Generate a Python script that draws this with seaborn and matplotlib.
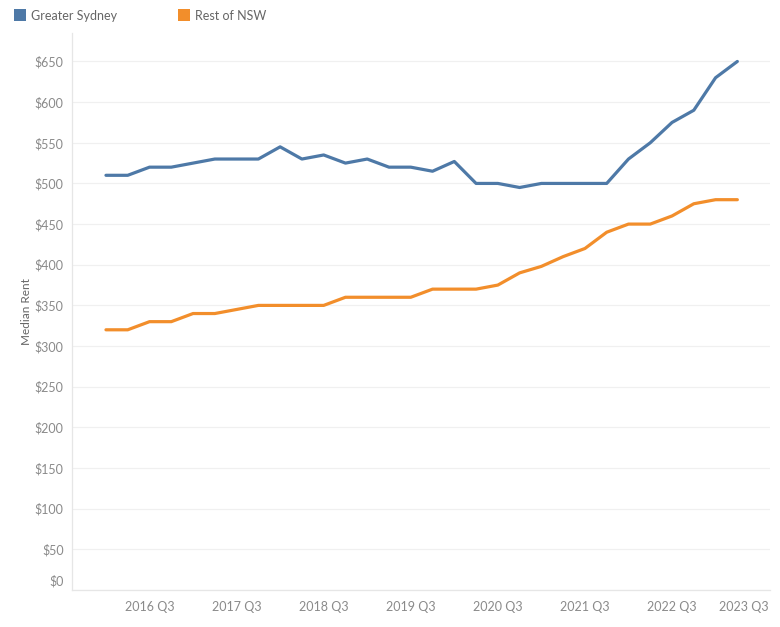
import matplotlib
matplotlib.use("Agg")
import matplotlib.pyplot as plt
import matplotlib.transforms as mtransforms
from matplotlib.patches import Rectangle
import seaborn as sns
import pandas as pd

# ---- data ----
quarters = [f"{y} Q{q}" for y in range(2016, 2024) for q in range(1, 5)][:30]  # 2016 Q1 .. 2023 Q2
greater_sydney = [510, 510, 520, 520, 525, 530, 530, 530, 545, 530,
                  535, 525, 530, 520, 520, 515, 527, 500, 500, 495,
                  500, 500, 500, 500, 530, 550, 575, 590, 630, 650]
rest_of_nsw = [320, 320, 330, 330, 340, 340, 345, 350, 350, 350,
               350, 360, 360, 360, 360, 370, 370, 370, 375, 390,
               398, 410, 420, 440, 450, 450, 460, 475, 480, 480]
series_names = ["Greater Sydney", "Rest of NSW"]
tick_labels = ["2016 Q3", "2017 Q3", "2018 Q3", "2019 Q3", "2020 Q3", "2021 Q3", "2022 Q3", "2023 Q3"]
y_ticks = list(range(0, 651, 50))

colors = {"Greater Sydney": "#4e79a7", "Rest of NSW": "#f28e2b"}

all_quarters = [f"{y} Q{q}" for y in range(2016, 2025) for q in range(1, 5)]
df = pd.DataFrame({
    "x": list(range(len(quarters))) * 2,
    "Quarter": quarters * 2,
    "Median Rent": greater_sydney + rest_of_nsw,
    "Region": [series_names[0]] * len(quarters) + [series_names[1]] * len(quarters),
})

sns.set_theme(style="white")
plt.rcParams["font.family"] = ["Lato", "DejaVu Sans"]

fig = plt.figure(figsize=(7.8, 6.27), dpi=100)
ax = fig.add_axes([72 / 780, 1 - 590 / 627, (770 - 72) / 780, (590 - 33) / 627])

sns.lineplot(data=df, x="x", y="Median Rent", hue="Region", palette=colors,
             linewidth=2.3, ax=ax, legend=False)

ax.set_xlim(-1.56, 30.5)
ax.set_ylim(0, 685)

# grid
ax.set_yticks(y_ticks)
ax.set_yticklabels([f"${v}" for v in y_ticks])
ax.yaxis.grid(True, color="#f0f0f0", linewidth=0.9)
ax.set_axisbelow(True)
ax.xaxis.grid(False)

tick_pos = [all_quarters.index(t) for t in tick_labels]
ax.set_xticks(tick_pos)
ax.set_xticklabels(tick_labels)

for s in ["top", "right"]:
    ax.spines[s].set_visible(False)
ax.spines["left"].set_color("#e6e6e6")
ax.spines["bottom"].set_color("#e6e6e6")
ax.spines["left"].set_linewidth(0.9)
ax.spines["bottom"].set_linewidth(0.9)

ax.tick_params(axis="y", length=0, pad=6, labelsize=9, labelcolor="#8a8a8a")
ax.tick_params(axis="x", length=3, width=0.8, color="#e0e0e0", pad=5, labelsize=9, labelcolor="#8a8a8a")

ax.set_xlabel("")
ax.set_ylabel("Median Rent", fontsize=8.5, color="#666666", labelpad=2)

# shift $0 label up and last x label left like the reference
fig.canvas.draw()
ylabels = ax.get_yticklabels()
ylabels[0].set_transform(ylabels[0].get_transform() +
                         mtransforms.ScaledTranslation(0, 7 / 72, fig.dpi_scale_trans))
xlabels = ax.get_xticklabels()
xlabels[-1].set_transform(xlabels[-1].get_transform() +
                          mtransforms.ScaledTranslation(-11 / 72, 0, fig.dpi_scale_trans))

# legend at top
legend_x = [14, 178]
for name, lx in zip(series_names, legend_x):
    fig.patches.append(Rectangle((lx / 780, 1 - 21 / 627), 12 / 780, 12 / 627,
                                 transform=fig.transFigure, facecolor=colors[name],
                                 edgecolor="none"))
    fig.text((lx + 17) / 780, 1 - 15.5 / 627, name, fontsize=9, color="#666666",
             va="center", ha="left")

fig.savefig("out.png", dpi=100)
